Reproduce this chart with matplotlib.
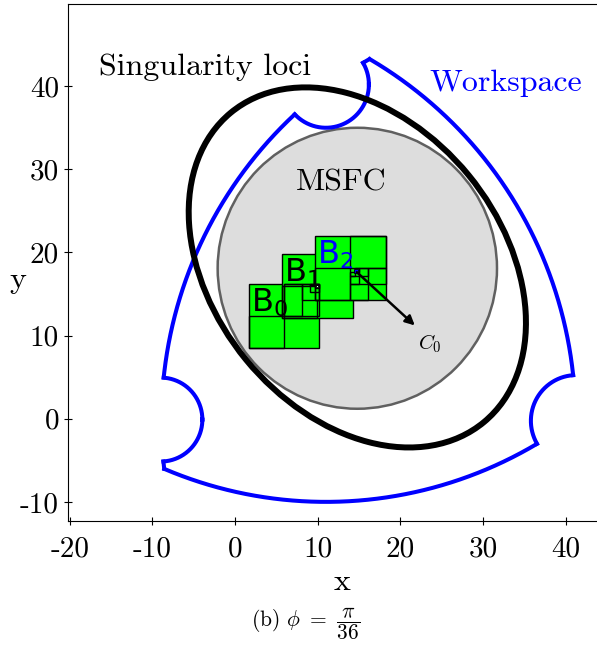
import numpy as np
import matplotlib.pyplot as plt
from matplotlib.patches import Circle, Ellipse, Rectangle

plt.rcParams['font.family'] = 'serif'
plt.rcParams['font.serif'] = ['cmr10']
plt.rcParams['mathtext.fontset'] = 'cm'
plt.rcParams['axes.unicode_minus'] = False

# workspace = intersection of three annuli (one per leg)
leg_cx = [-9.0, 11.0, 41.3]
leg_cy = [-0.1, 40.2, -0.25]
rho_max = [50.2, 50.2, 50.2]
rho_min = [5.05, 5.2, 5.5]

# singularity loci (fitted ellipse)
sing_center = (14.8, 18.2)
sing_width = 48.2
sing_height = 34.9
sing_angle = -50.5

# maximal singularity free circle
msfc_center = (14.8, 18.1)
msfc_radius = 16.9

# the three boxes B0, B1, B2: x0, y0, w, h
box_x = [1.69, 5.65, 9.68]
box_y = [8.55, 12.1, 14.3]
box_w = [8.51, 8.59, 8.59]
box_h = [7.65, 7.7, 7.7]
box_names = [r'B$_0$', r'B$_1$', r'B$_2$']
box_colors = ['black', 'black', 'blue']

# subdivision cells (outlines), with drawing layer
cell_x = [5.65, 9.95, 9.68, 13.97, 13.97, 16.12, 13.97, 15.05, 13.97, 14.51,
	1.69, 5.95, 5.95, 8.07, 9.13, 9.67]
cell_y = [12.1, 15.95, 14.3, 18.15, 14.3, 16.22, 16.22, 17.19, 17.19, 17.67,
	8.55, 12.4, 12.4, 14.3, 15.25, 15.72]
cell_w = [4.3, 4.29, 4.29, 4.3, 2.15, 2.15, 1.08, 1.07, 0.54, 0.54,
	4.26, 4.25, 2.12, 2.13, 1.07, 0.53]
cell_h = [3.85, 3.85, 3.85, 3.85, 1.92, 1.93, 0.97, 0.96, 0.48, 0.48,
	3.85, 3.8, 3.8, 1.9, 0.95, 0.48]
cell_z = [5.5, 5.5, 6.5, 6.5, 6.5, 6.5, 6.5, 6.5, 6.5, 6.5,
	7, 7, 7, 7, 7, 7]

# last cells
white_cell = (9.8, 15.85, 0.25, 0.25)
blue_cell = (14.42, 17.58, 0.42, 0.42)

c0_start = (14.5, 17.85)
c0_end = (22.0, 11.0)

fig = plt.figure(figsize=(5.97, 6.48), dpi=100)
ax = fig.add_axes([0.114, 0.196, 0.886, 0.798])

circ = Circle(msfc_center, msfc_radius, facecolor='#dddddd', edgecolor='#606060', lw=1.8, zorder=1)
ax.add_patch(circ)

ell = Ellipse(sing_center, sing_width, sing_height, angle=sing_angle,
	fill=False, edgecolor='black', lw=4.3, zorder=3)
ax.add_patch(ell)

t = np.linspace(0, 2 * np.pi, 8000)
cx = np.array(leg_cx)
cy = np.array(leg_cy)
rmax = np.array(rho_max)
rmin = np.array(rho_min)
for i in range(3):
	for rad in [rho_max[i], rho_min[i]]:
		px = leg_cx[i] + rad * np.cos(t)
		py = leg_cy[i] + rad * np.sin(t)
		d = np.sqrt((px[:, None] - cx[None, :])**2 + (py[:, None] - cy[None, :])**2)
		ok = np.all(d <= rmax + 1e-6, axis=1) & np.all(d >= rmin - 1e-6, axis=1)
		px[~ok] = np.nan
		py[~ok] = np.nan
		ax.plot(px, py, color='blue', lw=2.9, zorder=2)

for i in range(3):
	x0, y0, w, h = box_x[i], box_y[i], box_w[i], box_h[i]
	ax.add_patch(Rectangle((x0, y0), w, h, facecolor='#00ff00', edgecolor='black', lw=1.0, zorder=4 + i))
	ax.text(x0 + 0.25, y0 + h - 0.35, box_names[i], color=box_colors[i], family='DejaVu Sans',
		math_fontfamily='dejavusans', fontsize=23, va='top', ha='left', zorder=10)

for i in range(len(cell_x)):
	ax.add_patch(Rectangle((cell_x[i], cell_y[i]), cell_w[i], cell_h[i], fill=False,
		edgecolor='black', lw=1.0, zorder=cell_z[i]))
ax.add_patch(Rectangle(white_cell[:2], white_cell[2], white_cell[3], facecolor='white',
	edgecolor='black', lw=0.6, zorder=7.5))
ax.add_patch(Rectangle(blue_cell[:2], blue_cell[2], blue_cell[3], facecolor='blue',
	edgecolor='black', lw=0.6, zorder=7.5))

ax.annotate('', xy=c0_end, xytext=c0_start,
	arrowprops=dict(arrowstyle='-|>', color='black', lw=1.8, mutation_scale=14), zorder=11)
ax.text(c0_end[0] + 0.2, c0_end[1] - 0.6, '$C_0$', fontsize=15, va='top', ha='left')

ax.text(-16.5, 41.3, 'Singularity loci', fontsize=23)
ax.text(23.5, 39.4, 'Workspace', fontsize=23, color='blue')
ax.text(7.4, 27.5, 'MSFC', fontsize=23)

ax.set_xlim(-20.2, 43.8)
ax.set_ylim(-12.3, 49.9)
ax.set_xticks([-20, -10, 0, 10, 20, 30, 40])
ax.set_yticks([-10, 0, 10, 20, 30, 40])
ax.tick_params(labelsize=21, direction='inout', length=6)
ax.tick_params(axis='x', pad=8)
ax.spines['right'].set_visible(False)
ax.set_xlabel('x', fontsize=23, va='center')
ax.xaxis.set_label_coords(0.518, -0.118)
ax.set_ylabel('y', fontsize=23, rotation=0, ha='center', va='center')
ax.yaxis.set_label_coords(-0.0945, 0.466)

fig.text(0.511, 0.038, r'(b) $\phi\ =\ \dfrac{\pi}{36}$', fontsize=15.5, ha='center', va='center')

plt.savefig('out.png', dpi=100)
